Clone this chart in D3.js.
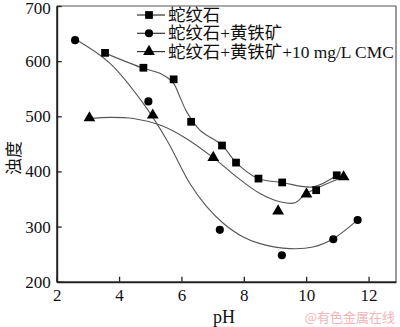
<!DOCTYPE html>
<html><head><meta charset="utf-8">
<script src="https://cdn.jsdelivr.net/npm/d3@7"></script>
<style>
html,body{margin:0;padding:0;background:#fff;}
svg{display:block;}
text{font-family:"Liberation Serif","Noto Sans CJK SC",serif;fill:#111;}
</style></head>
<body>
<svg id="c" width="400" height="327"></svg>
<script>
// ---- data ----
const seriesNames = ["蛇纹石", "蛇纹石+黄铁矿", "蛇纹石+黄铁矿+10 mg/L CMC"];
const pHSerp = [3.55, 4.78, 5.75, 6.31, 7.30, 7.75, 8.47, 9.23, 10.32, 10.98];
const turbSerp = [615, 588, 567, 490, 447, 416, 387, 380, 366, 393];
const pHPyr = [2.59, 4.94, 7.23, 9.22, 10.87, 11.65];
const turbPyr = [638, 527, 294, 248, 277, 312];
const pHCmc = [3.05, 5.08, 7.02, 9.10, 10.01, 11.20];
const turbCmc = [497, 502, 425, 328, 359, 390];
// fitted curves
const fitSerpX = [3.53, 4.78, 5.31, 5.74, 5.95, 6.17, 6.59, 7.29, 7.77, 8.46, 9.21, 10.22, 10.98];
const fitSerpY = [615, 587, 578, 560, 535, 508, 475, 448, 415, 387, 380, 372, 393];
const fitPyrX = [2.59, 3.71, 4.78, 5.53, 6.27, 6.81, 7.34, 7.98, 8.52, 9.48, 10.22, 10.87, 11.65];
const fitPyrY = [640, 596, 523, 457, 378, 336, 306, 281, 269, 260, 263, 278, 312];
const fitCmcX = [3.04, 3.71, 4.46, 5.31, 6.06, 7.02, 7.77, 8.52, 9.16, 9.64, 10.01, 11.19];
const fitCmcY = [496, 498, 496, 484, 463, 425, 390, 360, 345, 343, 360, 390];
const xTicks = [2, 4, 6, 8, 10, 12];
const yTicks = [200, 300, 400, 500, 600, 700];
const xLabel = "pH";
const yLabel = "浊度";
const watermark = "@有色金属在线";

// ---- chart ----
const svg = d3.select("#c");
const x = d3.scaleLinear().domain([2, 12.88]).range([56.7, 396]);
const y = d3.scaleLinear().domain([200, 700]).range([281.7, 6]);

// frame top/right
svg.append("line").attr("x1", 56.7).attr("x2", 396).attr("y1", 6).attr("y2", 6)
  .attr("stroke", "#555").attr("stroke-width", 1.2);
svg.append("line").attr("x1", 396).attr("x2", 396).attr("y1", 6).attr("y2", 281.7)
  .attr("stroke", "#555").attr("stroke-width", 1.2);

const xAxis = svg.append("g").attr("transform", "translate(0,281.7)")
  .call(d3.axisBottom(x).tickValues(xTicks).tickSizeInner(-5).tickSizeOuter(0).tickPadding(7).tickFormat(d3.format("d")));
const yAxis = svg.append("g").attr("transform", "translate(56.7,0)")
  .call(d3.axisLeft(y).tickValues(yTicks).tickSizeInner(-5).tickSizeOuter(0).tickPadding(6).tickFormat(d3.format("d")));
[xAxis, yAxis].forEach(g => {
  g.select(".domain").attr("stroke", "#222").attr("stroke-width", 2);
  g.selectAll(".tick line").attr("stroke", "#222").attr("stroke-width", 1.3);
  g.selectAll(".tick text").attr("font-size", 17).attr("fill", "#111")
    .style("font-family", "'Liberation Serif',serif");
});
yAxis.selectAll(".tick text").filter(d => d === 700).attr("dy", "0.42em");

// axis titles
svg.append("text").attr("x", 224).attr("y", 323).attr("text-anchor", "middle")
  .attr("font-size", 18).text(xLabel);
svg.append("text").attr("transform", "translate(20,158) rotate(-90)")
  .attr("text-anchor", "middle").attr("font-size", 17).text(yLabel);

// curves
const line = d3.line().x(d => x(d[0])).y(d => y(d[1])).curve(d3.curveCatmullRom.alpha(0.5));
const fits = [[fitSerpX, fitSerpY], [fitPyrX, fitPyrY], [fitCmcX, fitCmcY]];
fits.forEach(([fx, fy]) => {
  svg.append("path").attr("d", line(fx.map((v, i) => [v, fy[i]])))
    .attr("fill", "none").attr("stroke", "#555").attr("stroke-width", 1.1);
});

// markers
const symbols = [d3.symbolSquare, d3.symbolCircle, d3.symbolTriangle];
const sizes = [60, 52, 60];
const pts = [[pHSerp, turbSerp], [pHPyr, turbPyr], [pHCmc, turbCmc]];
pts.forEach(([px, py], k) => {
  const sym = d3.symbol().type(symbols[k]).size(sizes[k]);
  svg.append("g").selectAll("path").data(px.map((v, i) => [v, py[i]])).join("path")
    .attr("d", sym).attr("transform", d => `translate(${x(d[0])},${y(d[1])})`)
    .attr("fill", "#000");
});

// legend
const lg = svg.append("g");
seriesNames.forEach((name, k) => {
  const yy = 15 + k * 18.3;
  lg.append("line").attr("x1", 137).attr("x2", 165).attr("y1", yy).attr("y2", yy)
    .attr("stroke", "#333").attr("stroke-width", 1.2);
  lg.append("path").attr("d", d3.symbol().type(symbols[k]).size(sizes[k])())
    .attr("transform", `translate(149,${yy})`).attr("fill", "#000");
  lg.append("text").attr("x", 168).attr("y", yy + 6).attr("font-size", 17.4).text(name);
});

// watermark
svg.append("text").attr("x", 395).attr("y", 322).attr("text-anchor", "end")
  .attr("font-size", 13).style("fill", "#f2b4b4")
  .style("font-family", "'Noto Sans CJK SC',sans-serif").text(watermark);
</script>
</body></html>
